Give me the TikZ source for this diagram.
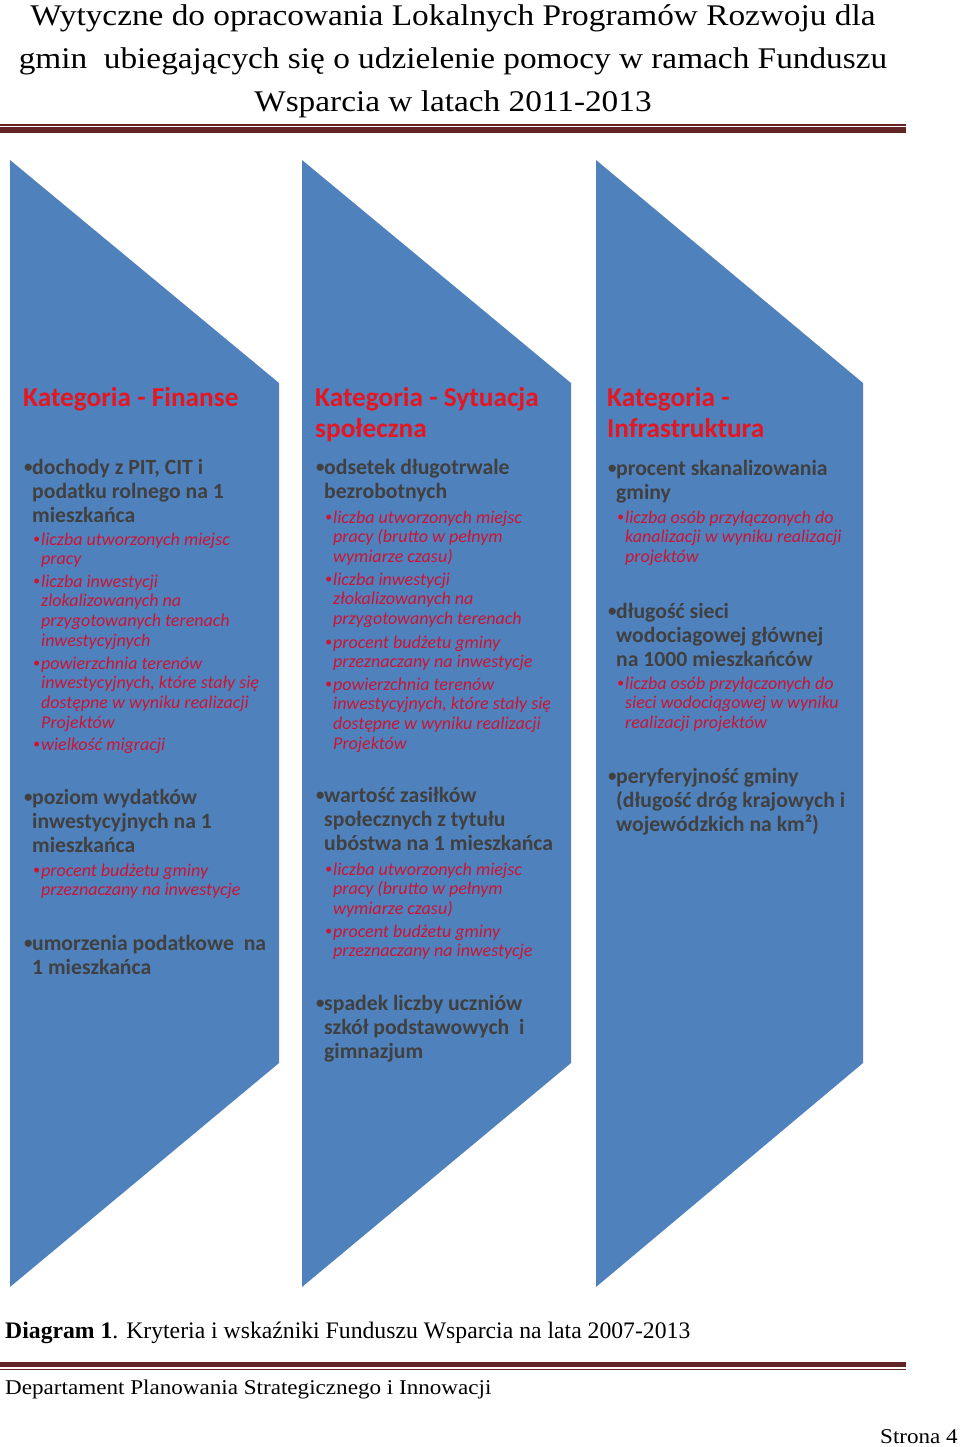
\documentclass[tikz,border=0pt]{standalone}
\usepackage{fontspec}
\setmainfont{Liberation Serif}
\newfontfamily\panelfont{Carlito}
\newfontfamily\titlefont[FakeStretch=1.11]{Liberation Serif}
\newfontfamily\footfont[FakeStretch=1.1]{Liberation Serif}
\usepackage{xcolor}
\usepackage{graphicx}
\usepackage{tikz}
\usetikzlibrary{positioning}

\definecolor{panelblue}{RGB}{79,129,189}
\definecolor{headred}{RGB}{228,22,34}
\definecolor{maingray}{RGB}{64,64,64}
\definecolor{subred}{RGB}{204,20,52}
\definecolor{rulered}{RGB}{99,37,35}

\newcommand{\rows}[1]{\begin{tabular}[t]{@{}l@{}}#1\end{tabular}}
\newcommand{\dotrows}[1]{\makebox[8pt][l]{\raisebox{0.07em}{\scalebox{0.78}{\textbullet}}}\rows{#1}}

\begin{document}
\begin{tikzpicture}[x=1pt, y=-1pt,
		panel/.style={fill=panelblue},
		cathead/.style={anchor=base west, inner sep=0pt, text=headred, font=\panelfont\bfseries\fontsize{27.3}{31}\selectfont},
		mainpt/.style={anchor=base west, inner sep=0pt, text=maingray, font=\panelfont\bfseries\fontsize{21.7}{24}\selectfont},
		subpt/.style={anchor=base west, inner sep=0pt, text=subred, font=\panelfont\itshape\fontsize{18}{19.7}\selectfont},
		titleline/.style={anchor=base, inner sep=0pt, font=\titlefont\fontsize{30}{36}\selectfont}]

			\useasboundingbox (0,0) rectangle (960,1447);

			% Title
			\node[titleline] (Title1) at (453,26) {Wytyczne do opracowania Lokalnych Programów Rozwoju dla};
			\node[titleline] (Title2) at (453,69) {gmin\ \ ubiegających się o udzielenie pomocy w ramach Funduszu};
			\node[titleline] (Title3) at (453,112) {Wsparcia w latach 2011-2013};

			\fill[rulered] (0,124) rectangle (906,125.6);
			\fill[rulered] (0,127) rectangle (906,133);

			% Panels
			\fill[panel] (10,160) -- (279,383) -- (279,1063) -- (10,1287) -- cycle;
			\fill[panel] (302,160) -- (571,383) -- (571,1063) -- (302,1287) -- cycle;
			\fill[panel] (596,160) -- (863,383) -- (863,1063) -- (596,1287) -- cycle;

			% Finanse
			\node[cathead] (FinHead) at (23,406) {\rows{Kategoria - Finanse}};
			\node[mainpt] (FinDochody) at (24,474) {\dotrows{dochody z PIT, CIT i\\podatku rolnego na 1\\mieszkańca}};
			\node[subpt] (FinMiejsca) at (33,545) {\dotrows{liczba utworzonych miejsc\\pracy}};
			\node[subpt] (FinInwest) at (33,587) {\dotrows{liczba inwestycji\\zlokalizowanych na\\przygotowanych terenach\\inwestycyjnych}};
			\node[subpt] (FinTereny) at (33,669) {\dotrows{powierzchnia terenów\\inwestycyjnych, które stały się\\dostępne w wyniku realizacji\\Projektów}};
			\node[subpt] (FinMigracja) at (33,750) {\dotrows{wielkość migracji}};
			\node[mainpt] (FinWydatki) at (24,804) {\dotrows{poziom wydatków\\inwestycyjnych na 1\\mieszkańca}};
			\node[subpt] (FinBudzet) at (33,876) {\dotrows{procent budżetu gminy\\przeznaczany na inwestycje}};
			\node[mainpt] (FinUmorzenia) at (24,950) {\dotrows{umorzenia podatkowe\ \ na\\1 mieszkańca}};

			% Sytuacja spoleczna
			\node[cathead] (SpoHead) at (315,406) {\rows{Kategoria - Sytuacja\\społeczna}};
			\node[mainpt] (SpoOdsetek) at (316,474) {\dotrows{odsetek długotrwale\\bezrobotnych}};
			\node[subpt] (SpoMiejsca) at (325,523) {\dotrows{liczba utworzonych miejsc\\pracy (brutto w pełnym\\wymiarze czasu)}};
			\node[subpt] (SpoInwest) at (325,585) {\dotrows{liczba inwestycji\\złokalizowanych na\\przygotowanych terenach}};
			\node[subpt] (SpoBudzet) at (325,648) {\dotrows{procent budżetu gminy\\przeznaczany na inwestycje}};
			\node[subpt] (SpoTereny) at (325,690) {\dotrows{powierzchnia terenów\\inwestycyjnych, które stały się\\dostępne w wyniku realizacji\\Projektów}};
			\node[mainpt] (SpoZasilki) at (316,802) {\dotrows{wartość zasiłków\\społecznych z tytułu\\ubóstwa na 1 mieszkańca}};
			\node[subpt] (SpoMiejsca2) at (325,875) {\dotrows{liczba utworzonych miejsc\\pracy (brutto w pełnym\\wymiarze czasu)}};
			\node[subpt] (SpoBudzet2) at (325,937) {\dotrows{procent budżetu gminy\\przeznaczany na inwestycje}};
			\node[mainpt] (SpoUczniowie) at (316,1010) {\dotrows{spadek liczby uczniów\\szkół podstawowych\ \ i\\gimnazjum}};

			% Infrastruktura
			\node[cathead] (InfHead) at (607,406) {\rows{Kategoria -\\Infrastruktura}};
			\node[mainpt] (InfKanal) at (608,475) {\dotrows{procent skanalizowania\\gminy}};
			\node[subpt] (InfOsoby) at (617,523) {\dotrows{liczba osób przyłączonych do\\kanalizacji w wyniku realizacji\\projektów}};
			\node[mainpt] (InfSiec) at (608,618) {\dotrows{długość sieci\\wodociagowej głównej\\na 1000 mieszkańców}};
			\node[subpt] (InfOsoby2) at (617,689) {\dotrows{liczba osób przyłączonych do\\sieci wodociągowej w wyniku\\realizacji projektów}};
			\node[mainpt] (InfDrogi) at (608,783) {\dotrows{peryferyjność gminy\\(długość dróg krajowych i\\wojewódzkich na km²)}};

			% Caption and footer
			\node[anchor=base west, inner sep=0pt, font=\rmfamily\fontsize{23.7}{28}\selectfont] (Caption) at (5,1338) {\textbf{Diagram 1}. Kryteria i wskaźniki Funduszu Wsparcia na lata 2007-2013};

			\fill[rulered] (0,1362) rectangle (906,1367);
			\fill[rulered] (0,1368.5) rectangle (906,1370);

			\node[anchor=base west, inner sep=0pt, font=\footfont\fontsize{21}{25}\selectfont] (Footer) at (5,1394) {Departament Planowania Strategicznego i Innowacji};
			\node[anchor=base east, inner sep=0pt, font=\footfont\fontsize{21}{25}\selectfont] (Page) at (958,1443) {Strona 4};
		\end{tikzpicture}
\end{document}
